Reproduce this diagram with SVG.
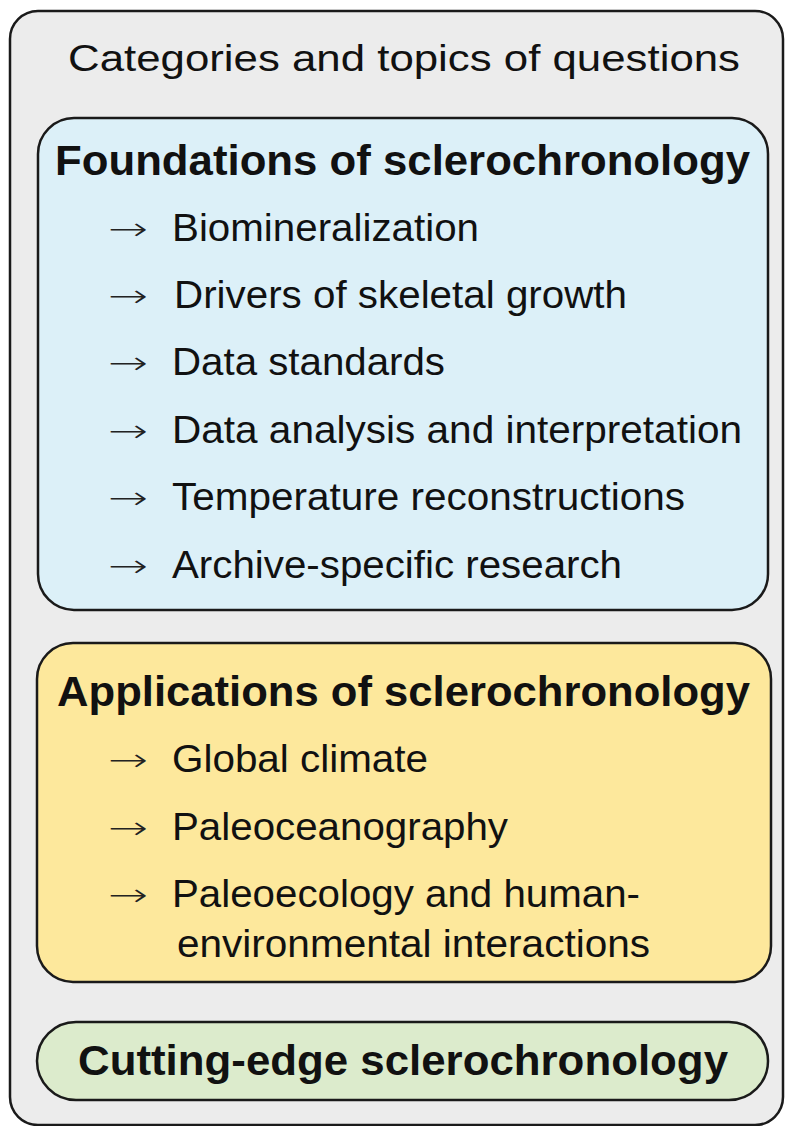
<svg xmlns="http://www.w3.org/2000/svg" width="788" height="1126" viewBox="0 0 788 1126">
<style>
.box{stroke:#1a1a1a;stroke-width:2.5}
text{font-family:"Liberation Sans",Arial,sans-serif;fill:#111}
.t{font-size:37px}
.h{font-size:42px;font-weight:bold}
.i{font-size:38px}
.a{font-family:"DejaVu Sans ExtraLight","DejaVu Sans",sans-serif;font-size:32px;font-weight:200;fill:#222}
</style>
<rect width="788" height="1126" fill="#ffffff"/>
<g id="outer">
<rect class="box" x="10" y="11" width="773" height="1114" rx="28" fill="#ececec"/>
<text class="t" x="68" y="71" textLength="672" lengthAdjust="spacingAndGlyphs">Categories and topics of questions</text>
</g>
<g id="foundations">
<rect class="box" x="38" y="118" width="730" height="492" rx="36" fill="#dcf0f8"/>
<text class="h" x="55" y="175" textLength="695" lengthAdjust="spacingAndGlyphs">Foundations of sclerochronology</text>
<text class="a" x="108" y="240" textLength="40" lengthAdjust="spacingAndGlyphs">→</text>
<text class="i" x="172" y="241" textLength="307" lengthAdjust="spacingAndGlyphs">Biomineralization</text>
<text class="a" x="108" y="307" textLength="40" lengthAdjust="spacingAndGlyphs">→</text>
<text class="i" x="174" y="308" textLength="453" lengthAdjust="spacingAndGlyphs">Drivers of skeletal growth</text>
<text class="a" x="108" y="374" textLength="40" lengthAdjust="spacingAndGlyphs">→</text>
<text class="i" x="172" y="375" textLength="273" lengthAdjust="spacingAndGlyphs">Data standards</text>
<text class="a" x="108" y="442" textLength="40" lengthAdjust="spacingAndGlyphs">→</text>
<text class="i" x="172" y="443" textLength="570" lengthAdjust="spacingAndGlyphs">Data analysis and interpretation</text>
<text class="a" x="108" y="509" textLength="40" lengthAdjust="spacingAndGlyphs">→</text>
<text class="i" x="172" y="510" textLength="513" lengthAdjust="spacingAndGlyphs">Temperature reconstructions</text>
<text class="a" x="108" y="577" textLength="40" lengthAdjust="spacingAndGlyphs">→</text>
<text class="i" x="172" y="578" textLength="450" lengthAdjust="spacingAndGlyphs">Archive-specific research</text>
</g>
<g id="applications">
<rect class="box" x="37" y="643" width="734" height="339" rx="36" fill="#fde89c"/>
<text class="h" x="57" y="706" textLength="693" lengthAdjust="spacingAndGlyphs">Applications of sclerochronology</text>
<text class="a" x="108" y="771" textLength="40" lengthAdjust="spacingAndGlyphs">→</text>
<text class="i" x="172" y="772" textLength="256" lengthAdjust="spacingAndGlyphs">Global climate</text>
<text class="a" x="108" y="839" textLength="40" lengthAdjust="spacingAndGlyphs">→</text>
<text class="i" x="172" y="840" textLength="336" lengthAdjust="spacingAndGlyphs">Paleoceanography</text>
<text class="a" x="108" y="906" textLength="40" lengthAdjust="spacingAndGlyphs">→</text>
<text class="i" x="172" y="907" textLength="468" lengthAdjust="spacingAndGlyphs">Paleoecology and human-</text>
<text class="i" x="177" y="957" textLength="473" lengthAdjust="spacingAndGlyphs">environmental interactions</text>
</g>
<g id="cutting">
<rect class="box" x="37" y="1022" width="731" height="78" rx="39" fill="#dcebcc"/>
<text class="h" x="78" y="1075" textLength="650" lengthAdjust="spacingAndGlyphs">Cutting-edge sclerochronology</text>
</g>
<g id="connectors"></g>
</svg>
